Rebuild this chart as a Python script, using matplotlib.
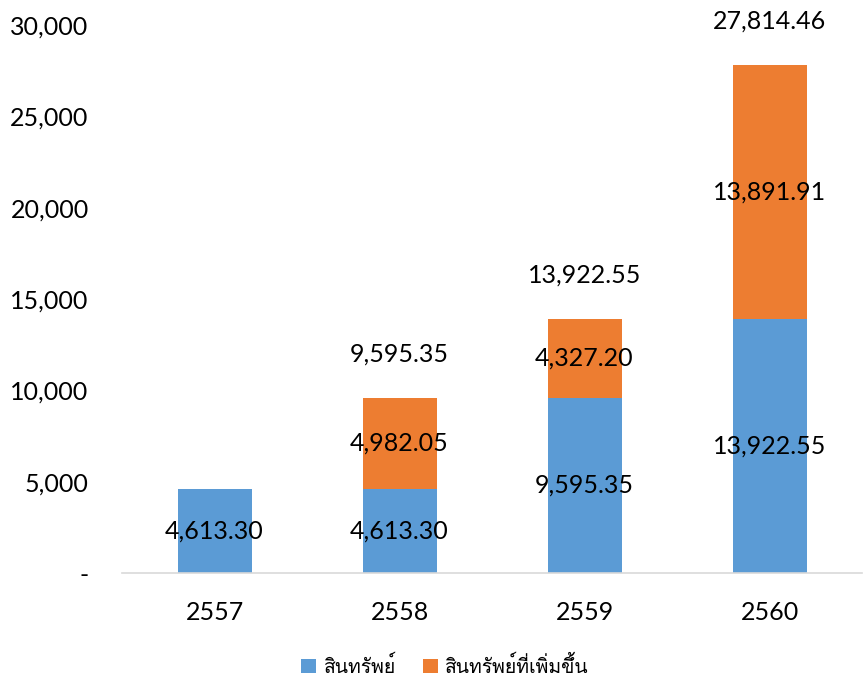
import matplotlib
matplotlib.use("Agg")
import matplotlib.pyplot as plt
from matplotlib import font_manager as fm
from matplotlib.ticker import FuncFormatter
import numpy as np

years = ["2557", "2558", "2559", "2560"]
assets = [4613.30, 4613.30, 9595.35, 13922.55]
added = [0, 4982.05, 4327.20, 13891.91]
totals = [None, 9595.35, 13922.55, 27814.46]

# Loma keeps Thai tone marks stacked without text shaping
names = set(f.name for f in fm.fontManager.ttflist)
thai = [n for n in ["Loma", "Noto Sans Thai"] if n in names][:1]
plt.rcParams["font.family"] = ["Lato"] + thai + ["DejaVu Sans"]

blue = "#5B9BD5"
orange = "#ED7D31"

fig = plt.figure(figsize=(8.63, 6.82), dpi=100)
ax = fig.add_axes([122 / 863, 109 / 682, 740 / 863, 548 / 682])

x = np.arange(len(years))
b1 = ax.bar(x, assets, width=0.4, color=blue, label="สินทรัพย์")
b2 = ax.bar(x, added, width=0.4, bottom=assets, color=orange, label="สินทรัพย์ที่เพิ่มขึ้น")

fs = 18
for i in range(len(years)):
    ax.text(x[i], assets[i] / 2, f"{assets[i]:,.2f}", ha="center", va="center", fontsize=fs)
    if added[i] > 0:
        ax.text(x[i], assets[i] + added[i] / 2, f"{added[i]:,.2f}", ha="center", va="center", fontsize=fs)
    if totals[i] is not None:
        ax.annotate(f"{totals[i]:,.2f}", (x[i], totals[i]), xytext=(0, 44), textcoords="offset pixels",
                    ha="center", va="center", fontsize=fs)

ax.set_xlim(-0.5, 3.5)
ax.set_ylim(0, 30000)
ax.set_xticks(x)
ax.set_xticklabels(years, fontsize=fs)
ax.set_yticks(range(0, 30001, 5000))
ax.yaxis.set_major_formatter(FuncFormatter(lambda v, p: "-" if v == 0 else f"{v:,.0f}"))
ax.tick_params(axis="y", length=0, pad=24, labelsize=fs)
ax.tick_params(axis="x", length=0, pad=20)
for s in ["top", "right", "left"]:
    ax.spines[s].set_visible(False)
ax.spines["bottom"].set_color("#D9D9D9")
ax.spines["bottom"].set_linewidth(1.2)

fig.legend(handles=[b1, b2], loc="center", bbox_to_anchor=(445 / 863, 1 - 665 / 682), ncol=2,
           frameon=False, fontsize=14, handlelength=0.75, handleheight=0.75, columnspacing=1.4,
           handletextpad=0.4)

fig.savefig("out.png")
